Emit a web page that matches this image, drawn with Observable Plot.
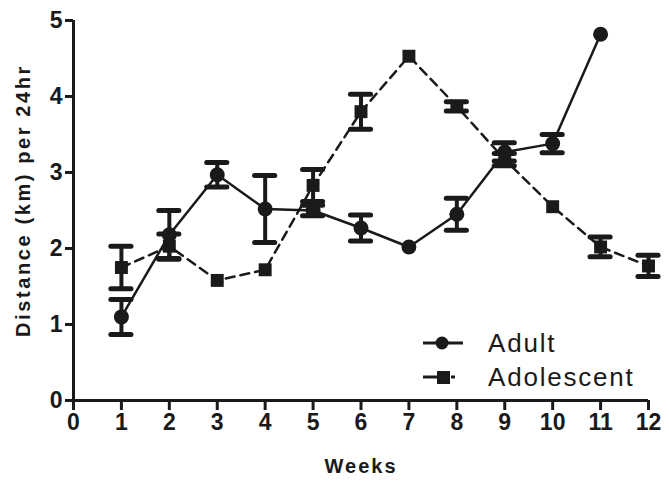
<!DOCTYPE html>
<html><head><meta charset="utf-8">
<script src="https://cdn.jsdelivr.net/npm/d3@7"></script>
<script src="https://cdn.jsdelivr.net/npm/@observablehq/plot@0.6"></script>
<style>
body{margin:0;background:#fff}
#chart{position:relative;width:669px;height:489px}
#legend{position:absolute;left:423px;top:326px;font-family:"Liberation Sans",Arial,sans-serif;font-size:26px;color:#1a1a1a;letter-spacing:1.8px}
#legend div{display:flex;align-items:center;height:34px}
#legend svg{margin-right:25px}
</style>
</head><body><div id="chart"></div>
<script>
// Data
const adultWeeks = [1,2,3,4,5,6,7,8,9,10,11];
const adultMean  = [1.10,2.18,2.97,2.52,2.50,2.27,2.02,2.45,3.27,3.38,4.82];
const adultSem   = [0.23,0.32,0.16,0.44,0.07,0.17,0,0.21,0.12,0.12,0];
const adolWeeks  = [1,2,3,4,5,6,7,8,9,10,11,12];
const adolMean   = [1.75,2.03,1.58,1.72,2.83,3.80,4.53,3.87,3.17,2.55,2.02,1.77];
const adolSem    = [0.28,0.16,0,0,0.21,0.23,0,0.06,0.08,0,0.13,0.14];
const xTicks = [0,1,2,3,4,5,6,7,8,9,10,11,12];
const yTicks = [0,1,2,3,4,5];
const seriesNames = ["Adult","Adolescent"];
const xLabel = "Weeks";
const yLabel = "Distance (km) per 24hr";

const adult = adultWeeks.map((w,i)=>({week:w, mean:adultMean[i], sem:adultSem[i]}));
const adol  = adolWeeks.map((w,i)=>({week:w, mean:adolMean[i], sem:adolSem[i]}));
const ink = "#1a1a1a";
const capHalf = 0.21;

function errMarks(data){
  const d = data.filter(p=>p.sem>0);
  return [
    Plot.ruleX(d, {x:"week", y1:p=>p.mean-p.sem, y2:p=>p.mean+p.sem, stroke:ink, strokeWidth:4}),
    Plot.ruleY(d, {y:p=>p.mean+p.sem, x1:p=>p.week-capHalf, x2:p=>p.week+capHalf, stroke:ink, strokeWidth:5, strokeLinecap:"round"}),
    Plot.ruleY(d, {y:p=>p.mean-p.sem, x1:p=>p.week-capHalf, x2:p=>p.week+capHalf, stroke:ink, strokeWidth:5, strokeLinecap:"round"})
  ];
}

const plot = Plot.plot({
  width:669, height:489,
  marginLeft:73, marginRight:21, marginTop:20, marginBottom:89,
  style:{fontFamily:"'Liberation Sans', Arial, sans-serif", color:ink, background:"#fff", overflow:"visible"},
  x:{domain:[0,12]},
  y:{domain:[0,5]},
  marks:[
    Plot.axisX({ticks:xTicks, tickSize:10, tickPadding:3, tickFormat:d=>d, fontSize:23, fontWeight:"bold", strokeWidth:3, label:null}),
    Plot.axisY({ticks:yTicks, tickSize:8, tickPadding:3, tickFormat:d=>d, fontSize:23, fontWeight:"bold", strokeWidth:3, label:null}),
    Plot.ruleY([0], {stroke:ink, strokeWidth:3}),
    Plot.ruleX([0], {stroke:ink, strokeWidth:3}),
    Plot.text([xLabel], {frameAnchor:"bottom", dy:72, fontSize:20, fontWeight:"bold", fill:ink}),
    Plot.text([yLabel], {frameAnchor:"left", textAnchor:"middle", dx:-50, dy:-10, rotate:-90, fontSize:20, fontWeight:"bold", fill:ink}),
    ...errMarks(adult),
    ...errMarks(adol),
    Plot.line(adult, {x:"week", y:"mean", stroke:ink, strokeWidth:2.5}),
    Plot.line(adol, {x:"week", y:"mean", stroke:ink, strokeWidth:2.5, strokeDasharray:"9,6"}),
    Plot.dot(adult, {x:"week", y:"mean", r:7.5, fill:ink, stroke:null}),
    Plot.dot(adol, {x:"week", y:"mean", symbol:"square", r:7.3, fill:ink, stroke:null})
  ]
});
document.getElementById("chart").appendChild(plot);
d3.select(plot).selectAll("text").filter(function(){return this.textContent===xLabel;}).style("letter-spacing","2px");
d3.select(plot).selectAll("text").filter(function(){return this.textContent===yLabel;}).style("letter-spacing","2.6px");

// legend overlay
const legend = d3.select("#chart").append("div").attr("id","legend");
seriesNames.forEach((name,i)=>{
  const row = legend.append("div");
  const s = row.append("svg").attr("width",40).attr("height",20);
  s.append("line").attr("x1",0).attr("x2",40).attr("y1",10).attr("y2",10).attr("stroke",ink).attr("stroke-width",3)
    .attr("stroke-dasharray", i===1 ? "20,8,4,20" : null);
  if(i===0) s.append("circle").attr("cx",19).attr("cy",10).attr("r",6.5).attr("fill",ink);
  else s.append("rect").attr("x",14).attr("y",4).attr("width",13).attr("height",13).attr("fill",ink);
  row.append("span").text(name);
});
</script>
</body></html>
